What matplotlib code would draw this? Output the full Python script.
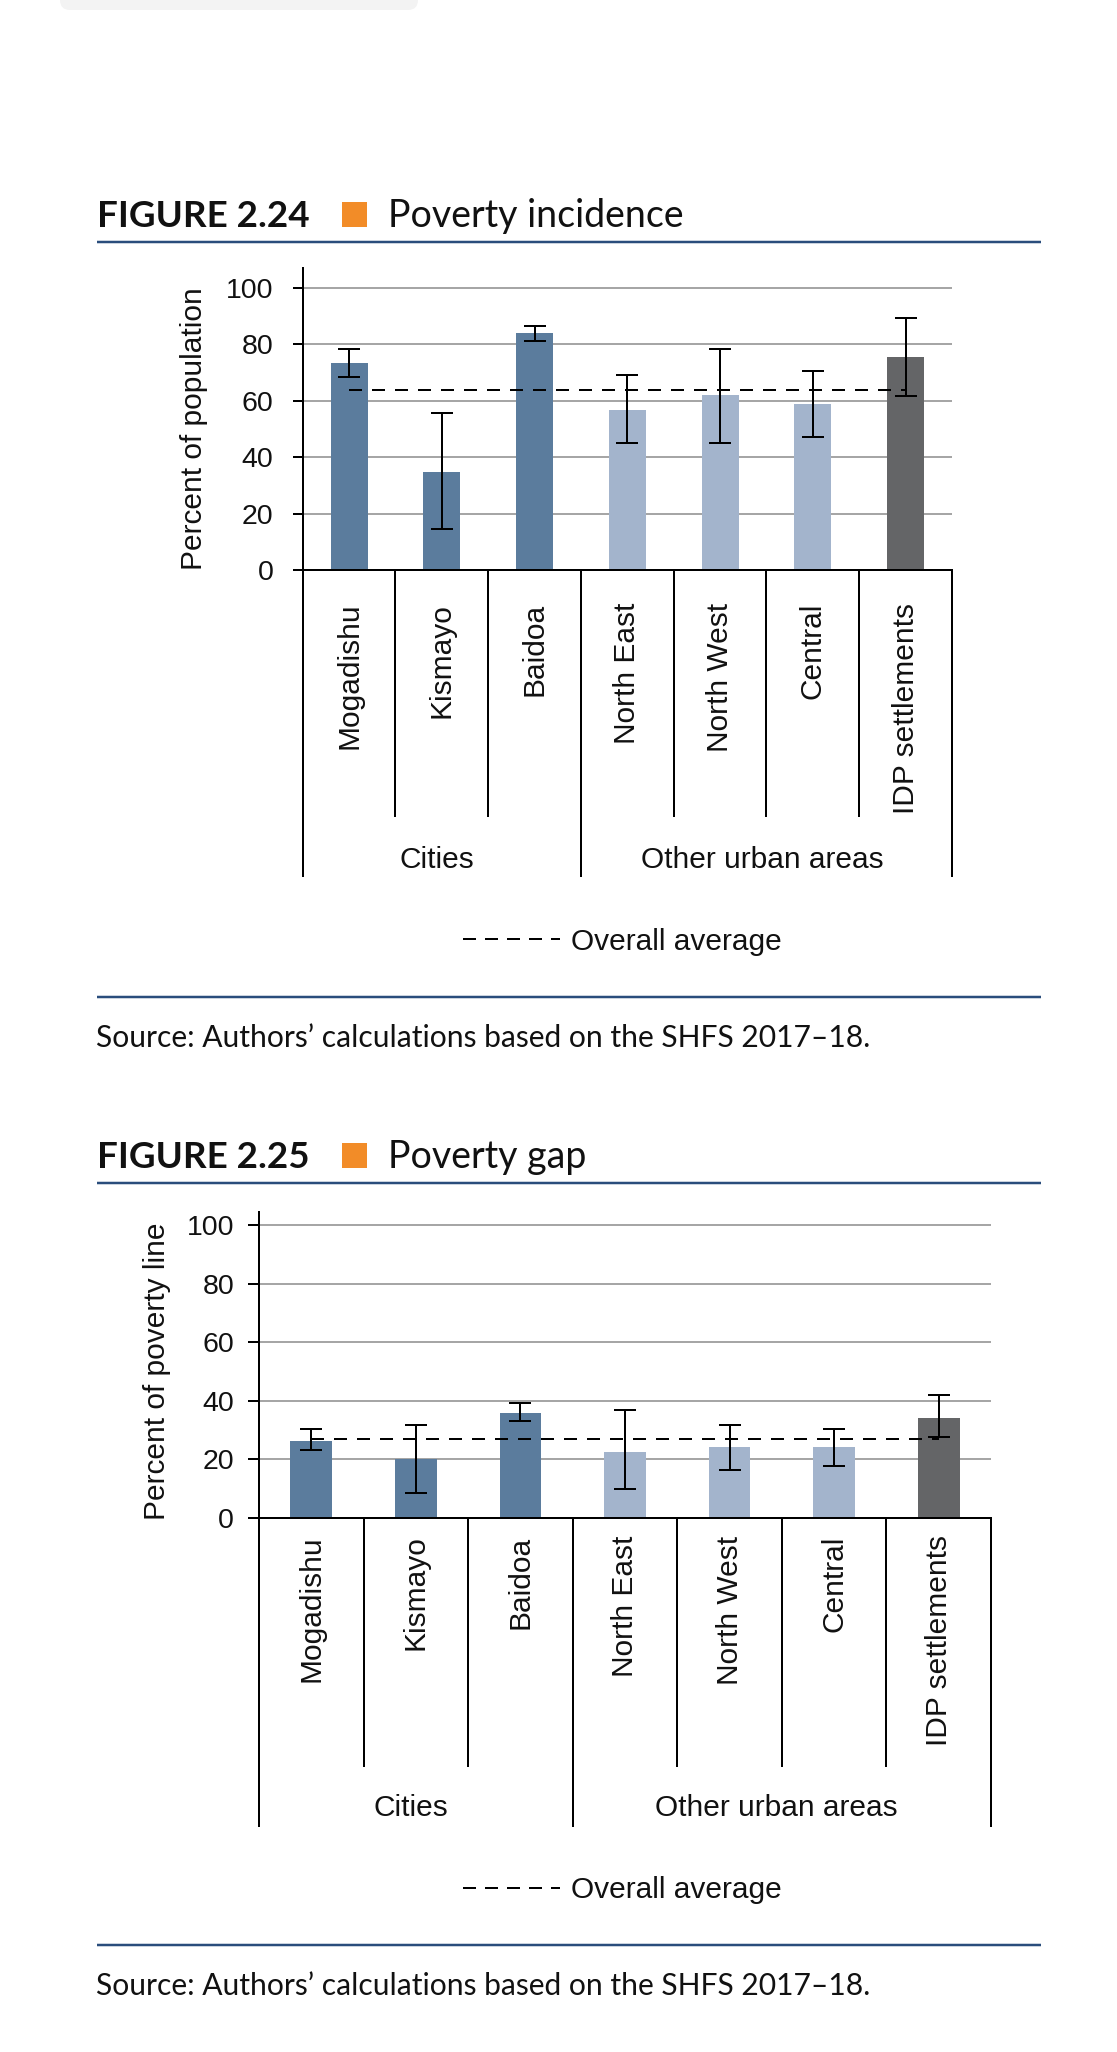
import matplotlib
matplotlib.use("Agg")
import matplotlib.pyplot as plt
from matplotlib.patches import Rectangle, FancyBboxPatch
from matplotlib.lines import Line2D

plt.rcParams['font.family'] = ['Liberation Sans', 'DejaVu Sans']

# ---------------- data ----------------
categories = ['Mogadishu', 'Kismayo', 'Baidoa', 'North East', 'North West',
              'Central', 'IDP settlements']
group_names = ['Cities', 'Other urban areas']
group_members = [[0, 1, 2], [3, 4, 5, 6]]
bar_kind = ['city', 'city', 'city', 'urban', 'urban', 'urban', 'idp']

incidence = [73.2, 34.7, 84.1, 56.8, 62.0, 58.9, 75.4]
incidence_low = [68.4, 14.4, 81.2, 45.1, 45.1, 47.0, 61.6]
incidence_high = [78.4, 55.7, 86.5, 69.1, 78.4, 70.5, 89.3]
incidence_avg = 63.8

gap = [26.3, 20.2, 35.6, 22.6, 24.0, 24.0, 34.1]
gap_low = [23.1, 8.3, 32.9, 9.7, 16.3, 17.7, 27.7]
gap_high = [30.3, 31.5, 39.3, 36.8, 31.5, 30.3, 41.9]
gap_avg = 26.9

yticks = [0, 20, 40, 60, 80, 100]
legend_label = 'Overall average'
source_text = 'Source: Authors\u2019 calculations based on the SHFS 2017\u201318.'

# ---------------- style ----------------
W, H = 1117, 2052
DPI = 100
PX = 72.0 / DPI  # points per pixel
kind_color = {'city': '#5b7c9d', 'urban': '#a3b4cc', 'idp': '#646567'}
grid_color = '#a6a6a6'
rule_color = '#2a4d7c'
orange = '#f28c28'
txt = '#111111'
dash = (0, (6.5, 5))

fig = plt.figure(figsize=(W / DPI, H / DPI), dpi=DPI)
fig.patch.set_facecolor('white')

# decoration layer in pixel coordinates
deco = fig.add_axes([0, 0, 1, 1], zorder=0)
deco.set_xlim(0, W)
deco.set_ylim(H, 0)
deco.axis('off')
deco.patch.set_alpha(0)

deco.add_patch(FancyBboxPatch((60, -20), 358, 30, boxstyle='round,pad=0,rounding_size=10',
                              fc='#f3f3f3', ec='none'))


def panel(values, lows, highs, avg, ylabel, fig_no, title, L):
    # L: layout in pixels
    ax = fig.add_axes([L['left'] / W, 1 - L['zero'] / H,
                       (L['right'] - L['left']) / W, (L['zero'] - L['top']) / H], zorder=2)
    ax.patch.set_alpha(0)
    scale = (L['zero'] - L['hundred']) / 100.0
    ytop = (L['zero'] - L['top']) / scale
    x = list(range(len(categories)))
    colors = [kind_color[k] for k in bar_kind]
    ax.bar(x, values, width=0.4, color=colors, zorder=2)
    yerr = [[v - lo for v, lo in zip(values, lows)], [hi - v for v, hi in zip(values, highs)]]
    ax.errorbar(x, values, yerr=yerr, fmt='none', ecolor='black', elinewidth=2 * PX,
                capsize=11 * PX, capthick=2 * PX, zorder=4)
    ax.plot(x, [avg] * len(x), color='black', lw=2 * PX, linestyle=dash, zorder=3)

    ax.set_xlim(-0.5, len(x) - 0.5)
    ax.set_ylim(0, ytop)
    ax.set_yticks(yticks)
    ax.yaxis.grid(True, color=grid_color, lw=2 * PX, zorder=0)
    ax.set_axisbelow(True)
    for s in ['top', 'right']:
        ax.spines[s].set_visible(False)
    for s in ['left', 'bottom']:
        ax.spines[s].set_linewidth(2 * PX)
        ax.spines[s].set_color('black')
    ax.tick_params(axis='y', direction='out', length=L['ticklen'] * PX, width=2 * PX,
                   pad=L['ypad'] * PX, labelsize=20.5, labelcolor=txt)
    ax.set_xticks(x)
    ax.set_xticklabels(categories, rotation=90, fontsize=21.5, color=txt)
    ax.tick_params(axis='x', length=0, pad=L['xpad'] * PX)

    axh = L['zero'] - L['top']
    trans = ax.get_xaxis_transform()
    # separators between categories
    bounds_group = set()
    for members in group_members:
        bounds_group.add(members[0] - 0.5)
        bounds_group.add(members[-1] + 0.5)
    for b in [i - 0.5 for i in range(len(x) + 1)]:
        bottom = L['gsep'] if b in bounds_group else L['csep']
        ax.plot([b, b], [0, -(bottom - L['zero']) / axh], transform=trans, color='black',
                lw=2 * PX, clip_on=False, solid_capstyle='butt')
    for name, members in zip(group_names, group_members):
        cx = (members[0] + members[-1]) / 2.0
        ax.text(cx - 0.05, -(L['gbase'] - L['zero']) / axh, name, transform=trans, ha='center',
                va='baseline', fontsize=21.5, color=txt)

    ax.set_ylabel(ylabel, fontsize=21.5, color=txt)
    ax.yaxis.set_label_coords((L['ylab_right'] - L['left']) / (L['right'] - L['left']),
                              (L['zero'] - (L['zero'] + L['hundred']) / 2) / axh)

    # title block
    deco.text(97, L['tbase'], fig_no, fontsize=26.5, fontweight='bold', family='Lato',
              color='#111111', va='baseline', ha='left')
    deco.add_patch(Rectangle((342, L['tbase'] - 25), 25, 25, fc=orange, ec='none'))
    deco.text(388, L['tbase'], title, fontsize=27, family='Lato', color='#111111',
              va='baseline', ha='left')
    deco.plot([97, 1041], [L['rule1'], L['rule1']], color=rule_color, lw=2.5 * PX,
              solid_capstyle='butt')
    # legend
    deco.add_line(Line2D([463, 560], [L['legy'], L['legy']], color='black', lw=2 * PX,
                         linestyle=(0, (6.5, 4.5))))
    deco.text(571, L['legbase'], legend_label, fontsize=21.5, color=txt, va='baseline',
              ha='left')
    deco.plot([97, 1041], [L['rule2'], L['rule2']], color=rule_color, lw=2.5 * PX,
              solid_capstyle='butt')
    deco.text(96, L['srcbase'], source_text, fontsize=21.6, family='Lato', color='#111111',
              va='baseline', ha='left')
    return ax


L1 = dict(left=302.7, right=952, top=268.3, hundred=287.7, zero=570, ticklen=10.4,
          ypad=19, xpad=32.7, csep=816.5, gsep=876.7, gbase=868.3, ylab_right=208.3,
          tbase=226.7, rule1=241.7, legy=939.3, legbase=950, rule2=996.7, srcbase=1047.3)
L2 = dict(left=259, right=991, top=1212.3, hundred=1225, zero=1517.7, ticklen=10.7,
          ypad=14.3, xpad=17.7, csep=1767.3, gsep=1827.3, gbase=1816, ylab_right=171,
          tbase=1168, rule1=1182.5, legy=1888.3, legbase=1898.3, rule2=1945, srcbase=1995)

panel(incidence, incidence_low, incidence_high, incidence_avg, 'Percent of population',
      'FIGURE 2.24', 'Poverty incidence', L1)
panel(gap, gap_low, gap_high, gap_avg, 'Percent of poverty line',
      'FIGURE 2.25', 'Poverty gap', L2)

fig.savefig('out.png', dpi=DPI, facecolor='white')
